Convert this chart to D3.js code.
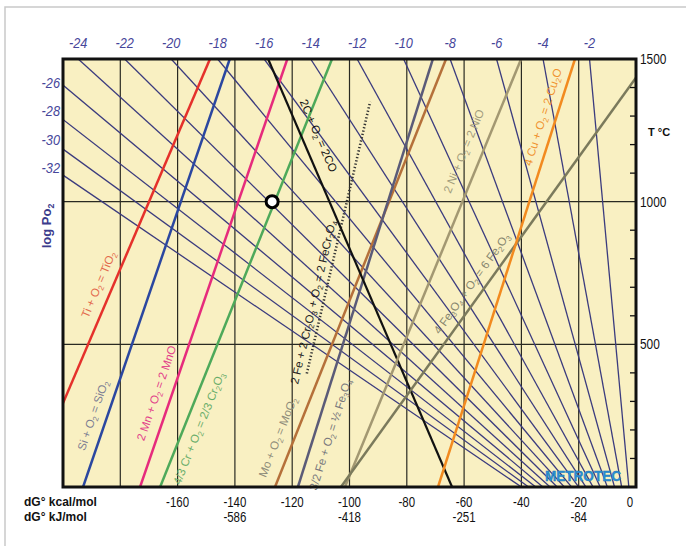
<!DOCTYPE html>
<html>
<head>
<meta charset="utf-8">
<script src="https://cdn.jsdelivr.net/npm/d3@7"></script>
<style>
  body { margin: 0; background: #fff; }
  svg { display: block; font-family: "Liberation Sans", Arial, sans-serif; }
</style>
</head>
<body>
<svg id="chart" width="686" height="546"></svg>
<script>
// --- data ---
const kcalTicks = [-160, -140, -120, -100, -80, -60, -40, -20, 0];
const gridKcal = [-180, -160, -140, -120, -100, -80, -60, -40, -20];
const kjTicks = [-140, -100, -60, -20];
const kjLabels = ["-586", "-418", "-251", "-84"];
const tempLabels = [500, 1000, 1500];
const tempMinor = [100, 200, 300, 400, 600, 700, 800, 900, 1100, 1200, 1300, 1400];
const logPoLines = [-32, -30, -28, -26, -24, -22, -20, -18, -16, -14, -12, -10, -8, -6, -4, -2];
const logPoTop = [-24, -22, -20, -18, -16, -14, -12, -10, -8, -6, -4, -2];
const logPoLeft = [-26, -28, -30, -32];

const reactions = [
  "Ti + O_2 = TiO_2",
  "Si + O_2 = SiO_2",
  "2 Mn + O_2 = 2 MnO",
  "4/3 Cr + O_2 = 2/3 Cr_2O_3",
  "Mo + O_2 = MoO_2",
  "3/2 Fe + O_2 = ½ Fe_3O_4",
  "2 Fe + 2 Cr_2O_3 + O_2 = 2 FeCr_2O_4",
  "2C + O_2 = 2CO",
  "2 Ni + O_2 = 2 NiO",
  "4 Fe_3O_4 + O_2 = 6 Fe_2O_3",
  "4 Cu + O_2 = 2 Cu_2O"
];
// dG° (kcal/mol O2) at tStart and tEnd (°C)
const tStart = [0, 0, 0, 0, 0, 0, 398, 0, 0, 0, 0];
const tEnd = [1500, 1500, 1500, 1500, 1500, 1500, 1350, 1500, 1500, 1500, 1500];
const dGStart = [-212.5, -193.0, -173.1, -166.1, -126.0, -118.0, -114.9, -64.2, -101.6, -103.0, -69.1];
const dGEnd = [-148.7, -141.8, -121.7, -106.1, -66.3, -70.9, -92.8, -128.4, -40.1, 4.7, -21.3];

const markDG = -127, markT = 1000;

// --- styles / layout ---
const lineColors = ["#e5312b", "#2b47a0", "#e62b7c", "#4ea95a", "#b5703a", "#5b5b78",
                    "#333", "#111", "#a39872", "#7b7a5c", "#f28a1f"];
const labelColors = ["#e3694d", "#7c7d92", "#e2408a", "#69ad6a", "#8e8c7a", "#77777c",
                     "#222", "#111", "#a29c7c", "#87866e", "#f0922e"];
const labelT = [690, 235, 312, 224, 154, 200, 640, 1209, 1153, 687, 1283];
const labelOff = [14, 14, 15, -14, 16, -15, 10, 16, 18, 13, 13];

const R = 4.575e-3; // kcal/(mol K) * ln10

const svg = d3.select("#chart");
const L = 63, Rt = 636, T = 59, B = 487;
const x = d3.scaleLinear().domain([-200, 0]).range([L, Rt]);
const y = d3.scaleLinear().domain([0, 1500]).range([B, T]);
// the left log pO2 labels sit evenly spaced beside the border
const yLeft = d3.scalePoint().domain(logPoLeft).range([87.5, 173]);

// outer grey frame
svg.append("path").attr("d", "M5,546V7H686").attr("fill", "none")
  .attr("stroke", "#c9c9c9").attr("stroke-width", 1.5);

svg.append("rect").attr("x", L).attr("y", T).attr("width", Rt - L).attr("height", B - T)
  .attr("fill", "#f9f0c2");

svg.append("clipPath").attr("id", "plot").append("rect")
  .attr("x", L).attr("y", T).attr("width", Rt - L).attr("height", B - T);
const g = svg.append("g").attr("clip-path", "url(#plot)");

// grid
g.selectAll(".vgrid").data(gridKcal).join("line")
  .attr("x1", d => x(d)).attr("x2", d => x(d)).attr("y1", T).attr("y2", B)
  .attr("stroke", "#2a2a22").attr("stroke-width", 1.2);
g.selectAll(".hgrid").data([500, 1000]).join("line")
  .attr("x1", L).attr("x2", Rt).attr("y1", d => y(d)).attr("y2", d => y(d))
  .attr("stroke", "#2a2a22").attr("stroke-width", 1.2);

// iso-pO2 lines from the origin (0 K, dG = 0)
g.selectAll(".po").data(logPoLines).join("line")
  .attr("x1", x(0)).attr("y1", y(-273.15))
  .attr("x2", d => x(R * (1500 + 273.15) * d)).attr("y2", y(1500))
  .attr("stroke", "#3b3b7e").attr("stroke-width", 1.3);

// reaction lines
function ends(i) {
  return [[x(dGStart[i]), y(tStart[i])], [x(dGEnd[i]), y(tEnd[i])]];
}
reactions.forEach((r, i) => {
  const [p0, p1] = ends(i);
  const dotted = i === 6;
  g.append("line")
    .attr("x1", p0[0]).attr("y1", p0[1]).attr("x2", p1[0]).attr("y2", p1[1])
    .attr("stroke", lineColors[i])
    .attr("stroke-width", dotted ? 2.6 : (i === 7 ? 2.2 : 2.5))
    .attr("stroke-dasharray", dotted ? "1.3,2.1" : null);
});

// rich text with subscripts written as _n
function rich(sel, str, size) {
  const shift = size * 0.22;
  let down = false;
  str.split(/(_\d)/).forEach(part => {
    if (!part) return;
    if (part.startsWith("_")) {
      sel.append("tspan").attr("font-size", size * 0.68).attr("dy", shift).text(part[1]);
      down = true;
    } else {
      sel.append("tspan").attr("dy", down ? -shift : null).text(part);
      down = false;
    }
  });
}

// reaction labels
reactions.forEach((r, i) => {
  const [p0, p1] = ends(i);
  const f = (labelT[i] - tStart[i]) / (tEnd[i] - tStart[i]);
  const px = p0[0] + f * (p1[0] - p0[0]), py = p0[1] + f * (p1[1] - p0[1]);
  let a = Math.atan2(p1[1] - p0[1], p1[0] - p0[0]);
  if (a < -Math.PI / 2) a += Math.PI;
  if (a > Math.PI / 2) a -= Math.PI;
  const cx = px + labelOff[i] * Math.sin(a), cy = py - labelOff[i] * Math.cos(a);
  const t = svg.append("text")
    .attr("transform", `translate(${cx},${cy}) rotate(${a * 180 / Math.PI}) translate(0,4)`)
    .attr("text-anchor", "middle")
    .attr("font-size", 11.5).attr("fill", labelColors[i]);
  rich(t, r, 11.5);
});

// marker
svg.append("circle").attr("cx", x(markDG)).attr("cy", y(markT)).attr("r", 6)
  .attr("fill", "#fff").attr("stroke", "#000").attr("stroke-width", 3);

// right minor ticks
svg.selectAll(".tick").data(tempMinor).join("line")
  .attr("x1", Rt - 6).attr("x2", Rt).attr("y1", d => y(d)).attr("y2", d => y(d))
  .attr("stroke", "#111").attr("stroke-width", 1.3);

// frame
svg.append("rect").attr("x", L).attr("y", T).attr("width", Rt - L).attr("height", B - T)
  .attr("fill", "none").attr("stroke", "#111").attr("stroke-width", 3);

// top log pO2 labels
svg.selectAll(".top").data(logPoTop).join("text")
  .attr("transform", d => `translate(${x(R * 1773.15 * d)},48) scale(0.85,1)`)
  .attr("text-anchor", "middle").attr("font-size", 15).attr("font-style", "italic")
  .attr("fill", "#46469a").text(d => d);

// left log pO2 labels
svg.selectAll(".left").data(logPoLeft).join("text")
  .attr("transform", d => `translate(60,${yLeft(d)}) scale(0.85,1)`)
  .attr("text-anchor", "end").attr("font-size", 15).attr("font-style", "italic")
  .attr("fill", "#46469a").text(d => d);

const lp = svg.append("text")
  .attr("transform", "translate(51,226) rotate(-90)")
  .attr("text-anchor", "middle").attr("font-size", 13).attr("font-weight", "bold")
  .attr("fill", "#3b3b8c");
rich(lp, "log Po_2", 13);

// right temperature labels
svg.selectAll(".rt").data(tempLabels).join("text")
  .attr("transform", d => `translate(640,${y(d) + 5}) scale(0.85,1)`)
  .attr("font-size", 14).attr("fill", "#111").text(d => d);
svg.append("text").attr("x", 648).attr("y", 136)
  .attr("font-size", 11).attr("font-weight", "bold").attr("fill", "#111").text("T °C");

// bottom labels
svg.selectAll(".kc").data(kcalTicks).join("text")
  .attr("transform", d => `translate(${x(d) - (d === 0 ? 6 : 0)},506.5) scale(0.82,1)`)
  .attr("text-anchor", "middle").attr("font-size", 14).attr("fill", "#111").text(d => d);
svg.selectAll(".kj").data(kjTicks).join("text")
  .attr("transform", d => `translate(${x(d)},522) scale(0.82,1)`)
  .attr("text-anchor", "middle").attr("font-size", 14).attr("fill", "#111")
  .text((d, i) => kjLabels[i]);
svg.append("text").attr("x", 24).attr("y", 506)
  .attr("font-size", 12).attr("font-weight", "bold").attr("fill", "#111").text("dG° kcal/mol");
svg.append("text").attr("x", 24).attr("y", 521)
  .attr("font-size", 12).attr("font-weight", "bold").attr("fill", "#111").text("dG° kJ/mol");

// logo
svg.append("text").attr("x", 545).attr("y", 481)
  .attr("font-size", 15).attr("font-weight", "bold").attr("fill", "#2b92d6")
  .attr("stroke", "#1f6fb0").attr("stroke-width", 0.4)
  .attr("textLength", 76).attr("lengthAdjust", "spacingAndGlyphs").text("METROTEC");
</script>
</body>
</html>
